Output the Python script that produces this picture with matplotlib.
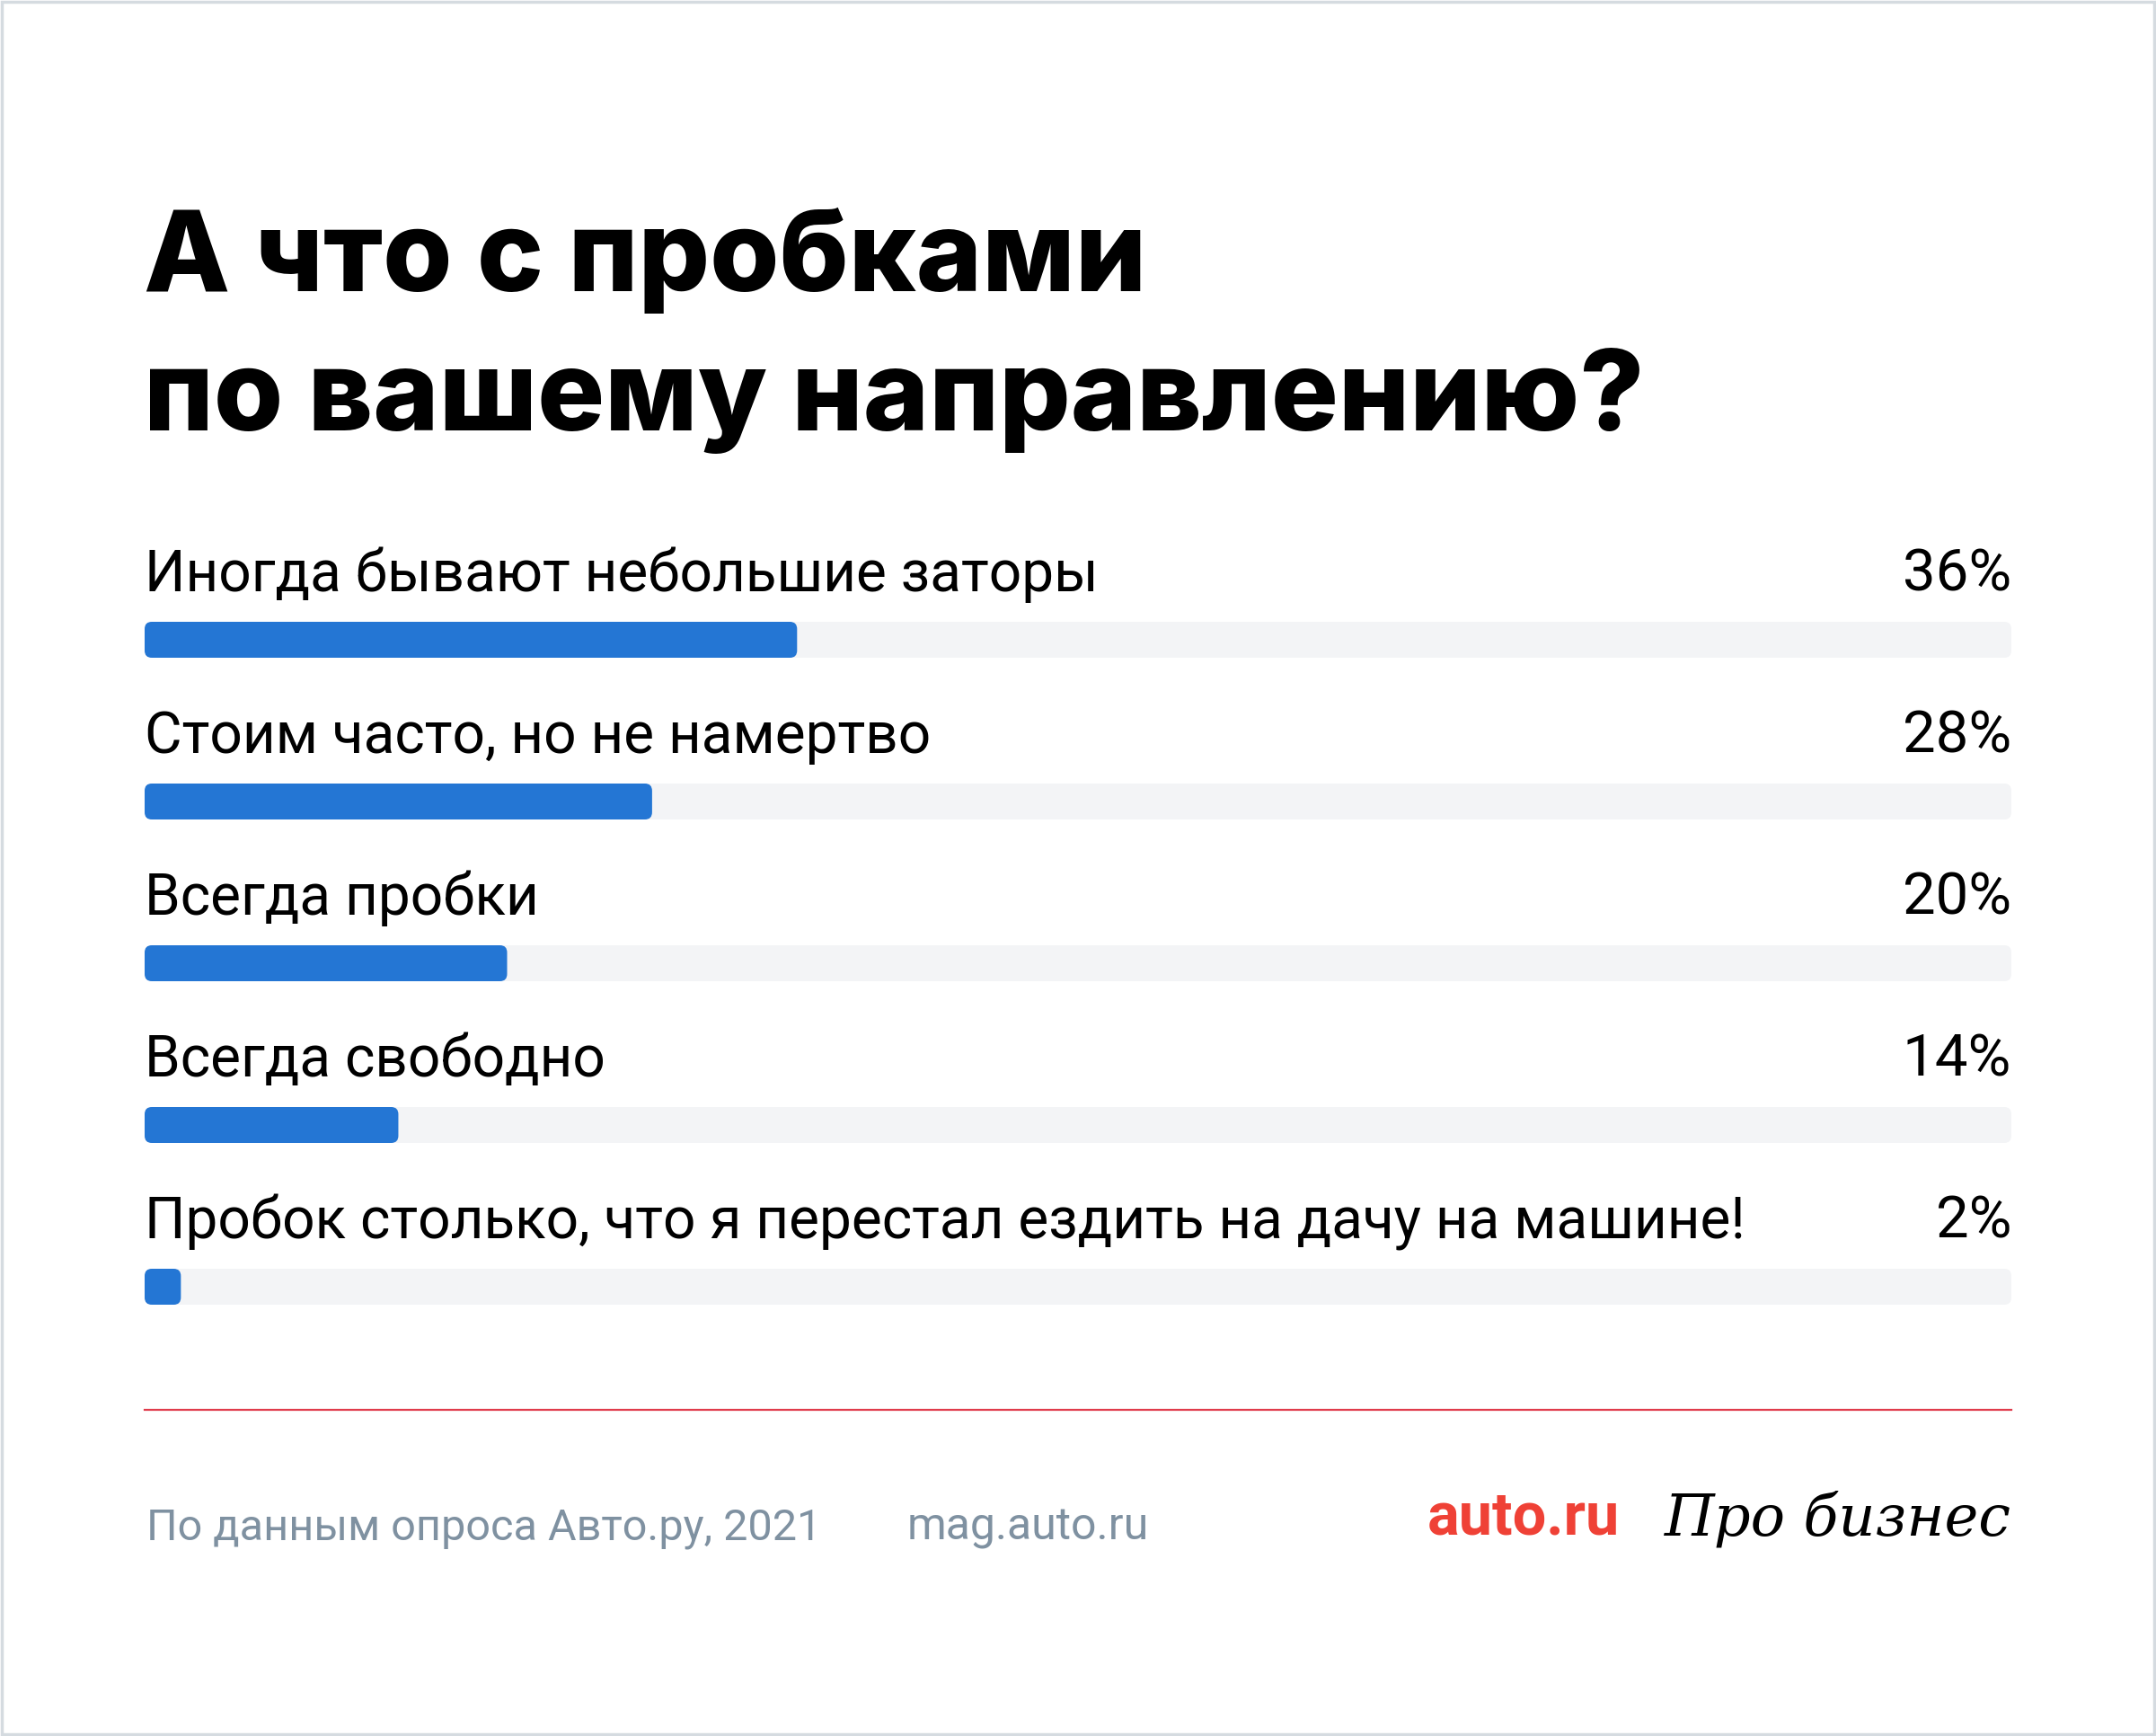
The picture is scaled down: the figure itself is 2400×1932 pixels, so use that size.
import matplotlib

matplotlib.use("Agg")
import matplotlib.pyplot as plt
from matplotlib.patches import FancyBboxPatch, Rectangle

title_lines = ["А что с пробками", "по вашему направлению?"]
answers = [
    "Иногда бывают небольшие заторы",
    "Стоим часто, но не намертво",
    "Всегда пробки",
    "Всегда свободно",
    "Пробок столько, что я перестал ездить на дачу на машине!",
]
shares = [36, 28, 20, 14, 2]
source = "По данным опроса Авто.ру, 2021"
site = "mag.auto.ru"

W, H = 2400, 1932
blue = "#2476d4"
track = "#f3f4f6"
grey = "#7f91a1"

plt.rcParams["font.family"] = ["Roboto", "DejaVu Sans"]

fig = plt.figure(figsize=(W / 100, H / 100), dpi=100)
fig.patch.set_facecolor("white")


def fx(px):
    return px / W


def fy(px):
    return 1 - px / H


# frame around the card
fig.add_artist(Rectangle((0.0008, 0.001), 0.9984, 0.998, transform=fig.transFigure,
                         fill=False, edgecolor="#d5dbe0", linewidth=2.5))

# title
for line, base in zip(title_lines, [324, 479]):
    fig.text(fx(160), fy(base), line, fontsize=90, fontweight="heavy",
             family=["Inter", "DejaVu Sans"], color="black", va="baseline")

# bars
left, right = 161, 2239
row_h = 180
top = 712 - row_h / 2
ax = fig.add_axes([fx(left), fy(top + row_h * len(shares)), (right - left) / W,
                   row_h * len(shares) / H])
xmax = 103
ax.set_xlim(0, xmax)
ax.set_ylim(len(shares) - 0.5, -0.5)
ax.axis("off")

bh = 40 / row_h
rows = list(range(len(shares)))
bg = ax.barh(rows, [xmax] * len(shares), height=bh, color=track)
fg = ax.barh(rows, shares, height=bh, color=blue)

# swap plain bars for rounded ones
xpp = xmax / (right - left)
ypp = 1 / row_h
for bars in (bg, fg):
    for p in bars:
        p.set_visible(False)
        rb = FancyBboxPatch((p.get_x(), p.get_y()), p.get_width(), p.get_height(),
                            boxstyle=f"round,pad=0,rounding_size={8 * xpp}",
                            mutation_aspect=ypp / xpp,
                            facecolor=p.get_facecolor(), edgecolor="none")
        ax.add_patch(rb)

for i, (lab, v) in enumerate(zip(answers, shares)):
    ax.text(0, i - 0.3, lab, fontsize=46, color="black",
            va="baseline", ha="left")
    ax.text(xmax, i - 0.3, f"{v}%", fontsize=47, color="black",
            va="baseline", ha="right")

# divider
fig.add_artist(plt.Line2D([fx(left), fx(right)], [fy(1569), fy(1569)],
                          color="#e03c4c", linewidth=1.6))

# footer
fig.text(fx(163), fy(1714), source, fontsize=35, color=grey, va="baseline")
fig.text(fx(1010), fy(1714), site, fontsize=36, color=grey, va="baseline")
fig.text(fx(1589), fy(1708), "auto.ru", fontsize=48, fontweight="bold",
         color="#ef4136", va="baseline")
fig.text(fx(right), fy(1708), "Про бизнес", fontsize=46, fontstyle="italic",
         family=["DejaVu Serif"], color="black", va="baseline", ha="right")

fig.savefig("out.png", dpi=100, facecolor="white")
